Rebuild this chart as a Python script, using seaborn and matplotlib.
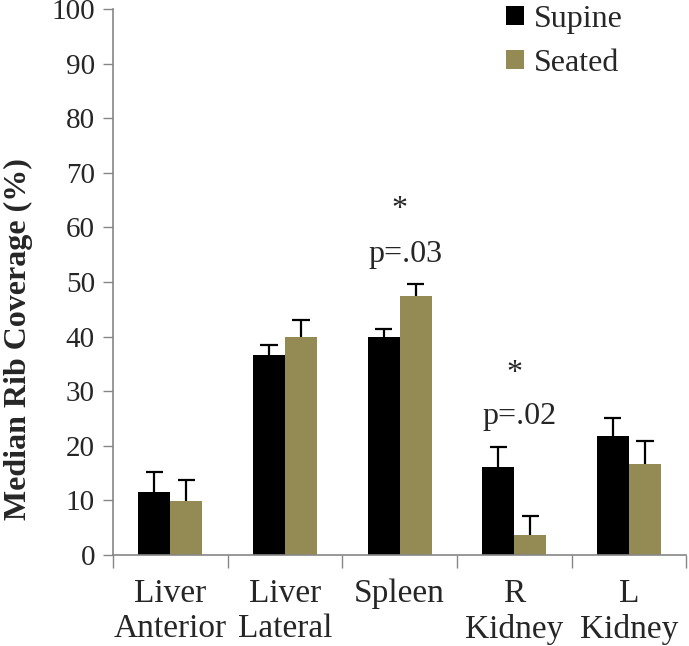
import numpy as np
import pandas as pd
import matplotlib
matplotlib.use("Agg")
import matplotlib.pyplot as plt
import seaborn as sns

organs = ["Liver\nAnterior", "Liver\nLateral", "Spleen", "R\nKidney", "L\nKidney"]
positions = ["Supine", "Seated"]
supine = [11.5, 36.6, 40.0, 16.1, 21.8]
seated = [9.8, 40.0, 47.5, 3.6, 16.7]
supine_err = [3.7, 1.9, 1.4, 3.6, 3.3]
seated_err = [3.9, 3.0, 2.1, 3.6, 4.2]
colors = ["#000000", "#948A54"]

# significance labels: (organ index, p text, y of p text, y of star)
sig = [(2, "p=.03", 55.1, 63.2), (3, "p=.02", 25.3, 33.3)]

df = pd.DataFrame({
    "organ": organs * 2,
    "position": ["Supine"] * 5 + ["Seated"] * 5,
    "coverage": supine + seated,
})

sns.set_style("white")
plt.rcParams["font.family"] = ["Liberation Serif", "DejaVu Serif"]

fig = plt.figure(figsize=(6.89, 6.46), dpi=100)
ax = fig.add_axes([0.164, 0.141, 0.832, 0.845])

sns.barplot(data=df, x="organ", y="coverage", hue="position", order=organs,
            hue_order=positions, palette=colors, width=0.56, errorbar=None,
            saturation=1, linewidth=0, edgecolor="none", ax=ax)

# one-sided error bars (upper only) on each bar
errs = {"Supine": supine_err, "Seated": seated_err}
vals = {"Supine": supine, "Seated": seated}
for cont, pos in zip(ax.containers, positions):
    xs = np.array([p.get_x() + p.get_width() / 2 for p in cont.patches])
    lo = np.array(vals[pos])
    hi = lo + np.array(errs[pos])
    ax.vlines(xs, lo, hi, color="black", linewidth=1.6, zorder=3)
    ax.hlines(hi, xs - 0.075, xs + 0.075, color="black", linewidth=1.6, zorder=3)

for i, ptxt, yp, ys in sig:
    ax.text(i + 0.05, yp, ptxt, ha="center", va="center", fontsize=23)
    ax.text(i, ys, "*", ha="center", va="center", fontsize=23)

ax.set_ylim(0, 100)
ax.set_xlim(-0.5, 4.5)
ax.set_yticks(np.arange(0, 101, 10))
ax.set_xlabel("")
ax.set_ylabel("Median Rib Coverage (%)", fontsize=23, fontweight="bold")
ax.yaxis.set_label_coords(-0.14, 0.395)
ax.tick_params(axis="y", labelsize=21, length=7, width=1, color="#868686",
               direction="out", left=True, pad=6)
ax.tick_params(axis="x", labelsize=24, length=0, pad=17)
ax.set_xticks(np.arange(-0.5, 5, 1), minor=True)
ax.tick_params(axis="x", which="minor", length=9, width=1, color="#868686", bottom=True)
for lab in ax.get_xticklabels():
    lab.set_linespacing(1.2)

sns.despine(ax=ax)
for s in ["left", "bottom"]:
    ax.spines[s].set_color("#868686")
    ax.spines[s].set_linewidth(1.2)

leg = ax.legend(loc="upper left", bbox_to_anchor=(0.735, 0.992),
                bbox_transform=fig.transFigure, frameon=False, borderpad=0,
                borderaxespad=0, fontsize=23, handlelength=0.55, handleheight=0.55,
                handletextpad=0.3, labelspacing=0.45)

fig.savefig("out.png", dpi=100)
